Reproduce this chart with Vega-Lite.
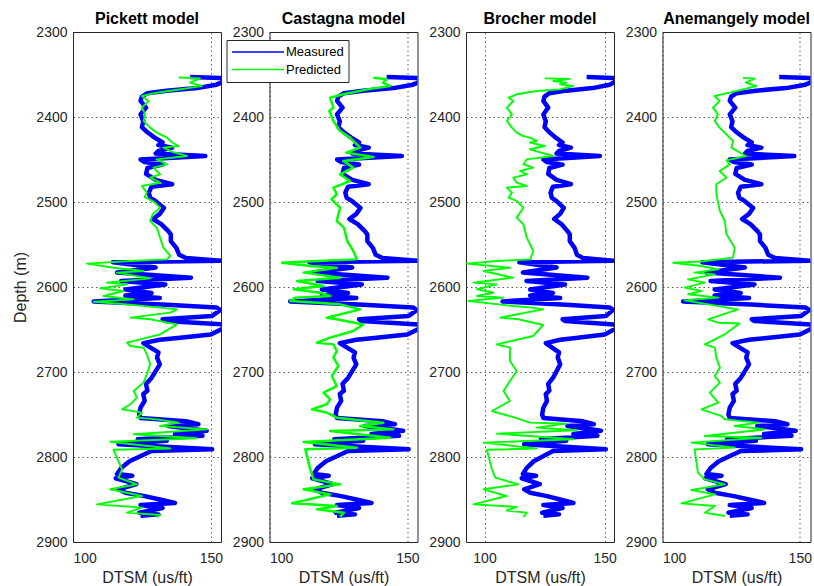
{
  "$schema": "https://vega.github.io/schema/vega-lite/v6.json",
  "background": "white",
  "padding": {"left": 12, "top": 10, "right": 3, "bottom": 2},
  "bounds": "flush",
  "spacing": 48.5,
  "config": {
    "font": "Liberation Sans",
    "view": {"stroke": "#262626", "strokeWidth": 1},
    "axis": {
      "labelFont": "Liberation Sans",
      "labelFontSize": 14,
      "labelColor": "#262626",
      "titleFont": "Liberation Sans",
      "titleFontSize": 16,
      "titleFontWeight": "normal",
      "titleColor": "#262626",
      "domain": false,
      "ticks": false,
      "grid": true,
      "gridColor": "#262626",
      "gridDash": [1.5, 3],
      "gridOpacity": 0.75,
      "gridWidth": 1
    },
    "axisX": {"labelPadding": 9, "titlePadding": 4},
    "axisY": {"labelPadding": 6, "titlePadding": 7, "format": "d"},
    "title": {"font": "Liberation Sans", "fontSize": 16, "fontWeight": "bold", "color": "#000000", "baseline": "alphabetic", "offset": -2, "frame": "group"}
  },
  "datasets": {
    "measured": [
      {"depth": 2353, "dtsm": 142.5}, {"depth": 2354, "dtsm": 153.5}, {"depth": 2358, "dtsm": 155}, {"depth": 2362, "dtsm": 152},
      {"depth": 2366, "dtsm": 145}, {"depth": 2369, "dtsm": 134}, {"depth": 2372, "dtsm": 127}, {"depth": 2376, "dtsm": 125},
      {"depth": 2381, "dtsm": 124.5}, {"depth": 2389, "dtsm": 126.5}, {"depth": 2397, "dtsm": 124.5}, {"depth": 2405, "dtsm": 125.5},
      {"depth": 2412, "dtsm": 125}, {"depth": 2418, "dtsm": 127}, {"depth": 2424, "dtsm": 129.5}, {"depth": 2430, "dtsm": 132.5},
      {"depth": 2433, "dtsm": 131}, {"depth": 2436, "dtsm": 136}, {"depth": 2440, "dtsm": 131}, {"depth": 2443, "dtsm": 130},
      {"depth": 2446, "dtsm": 148}, {"depth": 2450, "dtsm": 124.5}, {"depth": 2453, "dtsm": 126}, {"depth": 2456, "dtsm": 132.5},
      {"depth": 2460, "dtsm": 127}, {"depth": 2467, "dtsm": 126.5}, {"depth": 2474, "dtsm": 130}, {"depth": 2479, "dtsm": 136},
      {"depth": 2482, "dtsm": 128.5}, {"depth": 2489, "dtsm": 127.5}, {"depth": 2495, "dtsm": 128}, {"depth": 2499, "dtsm": 130},
      {"depth": 2507, "dtsm": 133}, {"depth": 2514, "dtsm": 131.5}, {"depth": 2520, "dtsm": 129}, {"depth": 2526, "dtsm": 132},
      {"depth": 2534, "dtsm": 134.5}, {"depth": 2538, "dtsm": 135.5}, {"depth": 2546, "dtsm": 135.5}, {"depth": 2554, "dtsm": 137.5},
      {"depth": 2562, "dtsm": 138.5}, {"depth": 2566, "dtsm": 141}, {"depth": 2569, "dtsm": 153.5}, {"depth": 2571, "dtsm": 114.5},
      {"depth": 2577, "dtsm": 130}, {"depth": 2583, "dtsm": 116}, {"depth": 2589, "dtsm": 142.8}, {"depth": 2593, "dtsm": 117.5},
      {"depth": 2597, "dtsm": 133.5}, {"depth": 2603, "dtsm": 119}, {"depth": 2607, "dtsm": 128.5}, {"depth": 2610, "dtsm": 119},
      {"depth": 2613, "dtsm": 131.5}, {"depth": 2617, "dtsm": 107.5}, {"depth": 2621, "dtsm": 134}, {"depth": 2624, "dtsm": 152},
      {"depth": 2627, "dtsm": 153.5}, {"depth": 2634, "dtsm": 150.5}, {"depth": 2638, "dtsm": 132.5}, {"depth": 2640, "dtsm": 133.5},
      {"depth": 2644, "dtsm": 154}, {"depth": 2648, "dtsm": 155}, {"depth": 2656, "dtsm": 150}, {"depth": 2660, "dtsm": 138},
      {"depth": 2662, "dtsm": 131.5}, {"depth": 2666, "dtsm": 125.5}, {"depth": 2671, "dtsm": 128}, {"depth": 2677, "dtsm": 131},
      {"depth": 2683, "dtsm": 130.5}, {"depth": 2691, "dtsm": 131.5}, {"depth": 2699, "dtsm": 130}, {"depth": 2707, "dtsm": 128.5},
      {"depth": 2714, "dtsm": 126.5}, {"depth": 2722, "dtsm": 127}, {"depth": 2726, "dtsm": 125.5}, {"depth": 2734, "dtsm": 126},
      {"depth": 2742, "dtsm": 124.5}, {"depth": 2750, "dtsm": 124}, {"depth": 2754, "dtsm": 124.5}, {"depth": 2758, "dtsm": 141},
      {"depth": 2761.5, "dtsm": 145.5}, {"depth": 2763.5, "dtsm": 134.5}, {"depth": 2769, "dtsm": 148.5}, {"depth": 2773, "dtsm": 137},
      {"depth": 2775, "dtsm": 147}, {"depth": 2779, "dtsm": 123.5}, {"depth": 2781, "dtsm": 134}, {"depth": 2785, "dtsm": 116.5},
      {"depth": 2791, "dtsm": 150.5}, {"depth": 2793, "dtsm": 128.5}, {"depth": 2805, "dtsm": 120.5}, {"depth": 2813, "dtsm": 117.5},
      {"depth": 2820, "dtsm": 116}, {"depth": 2822, "dtsm": 121.5}, {"depth": 2825, "dtsm": 115.5}, {"depth": 2832, "dtsm": 123},
      {"depth": 2838, "dtsm": 116.5}, {"depth": 2842, "dtsm": 119}, {"depth": 2846, "dtsm": 126}, {"depth": 2850, "dtsm": 131.5},
      {"depth": 2854, "dtsm": 137}, {"depth": 2856.5, "dtsm": 124.5}, {"depth": 2860, "dtsm": 132.5}, {"depth": 2865.5, "dtsm": 124},
      {"depth": 2867.5, "dtsm": 131}, {"depth": 2869, "dtsm": 124.5}
    ],
    "pickett": [
      {"depth": 2353.5, "dtsm": 138.3}, {"depth": 2354.5, "dtsm": 146.1}, {"depth": 2359.6, "dtsm": 142.5}, {"depth": 2363.5, "dtsm": 146.7},
      {"depth": 2366.3, "dtsm": 141.3}, {"depth": 2368.6, "dtsm": 136.5}, {"depth": 2371.4, "dtsm": 130.4}, {"depth": 2375.3, "dtsm": 125},
      {"depth": 2381.2, "dtsm": 127.4}, {"depth": 2389, "dtsm": 125}, {"depth": 2396.9, "dtsm": 126.2}, {"depth": 2404.7, "dtsm": 125.6},
      {"depth": 2412.5, "dtsm": 128}, {"depth": 2418.4, "dtsm": 130.4}, {"depth": 2424.3, "dtsm": 134.1}, {"depth": 2430, "dtsm": 136},
      {"depth": 2434.1, "dtsm": 138.3}, {"depth": 2436, "dtsm": 132.8}, {"depth": 2441, "dtsm": 136}, {"depth": 2445.9, "dtsm": 141.3},
      {"depth": 2449.8, "dtsm": 130.4}, {"depth": 2455.7, "dtsm": 134.1}, {"depth": 2459.6, "dtsm": 129.2}, {"depth": 2467.5, "dtsm": 131.6},
      {"depth": 2471.4, "dtsm": 128}, {"depth": 2477.3, "dtsm": 131.6}, {"depth": 2481.2, "dtsm": 125}, {"depth": 2489, "dtsm": 126.8},
      {"depth": 2494, "dtsm": 126}, {"depth": 2500, "dtsm": 129.5}, {"depth": 2506.7, "dtsm": 131.6}, {"depth": 2514, "dtsm": 129},
      {"depth": 2522.4, "dtsm": 128}, {"depth": 2530.2, "dtsm": 130.4}, {"depth": 2542, "dtsm": 131.6}, {"depth": 2553.8, "dtsm": 132.8},
      {"depth": 2563.5, "dtsm": 135.3}, {"depth": 2567.5, "dtsm": 134.1}, {"depth": 2569.4, "dtsm": 120.8}, {"depth": 2572.5, "dtsm": 105.1},
      {"depth": 2577.3, "dtsm": 114.7}, {"depth": 2581.2, "dtsm": 125.6}, {"depth": 2583.1, "dtsm": 115.9}, {"depth": 2589.8, "dtsm": 128},
      {"depth": 2594.9, "dtsm": 112.3}, {"depth": 2596.9, "dtsm": 119.6}, {"depth": 2601.6, "dtsm": 109.9}, {"depth": 2604.7, "dtsm": 118.3},
      {"depth": 2610.6, "dtsm": 111.1}, {"depth": 2614.5, "dtsm": 122}, {"depth": 2617.3, "dtsm": 107.5}, {"depth": 2620.4, "dtsm": 119.6},
      {"depth": 2624.3, "dtsm": 131.6}, {"depth": 2626.3, "dtsm": 137.7}, {"depth": 2630.2, "dtsm": 135.3}, {"depth": 2636, "dtsm": 120.8},
      {"depth": 2638, "dtsm": 128}, {"depth": 2644, "dtsm": 137.7}, {"depth": 2655.7, "dtsm": 131.6}, {"depth": 2665.5, "dtsm": 119.6},
      {"depth": 2669.4, "dtsm": 120.8}, {"depth": 2671.4, "dtsm": 125.6}, {"depth": 2679.2, "dtsm": 126.8}, {"depth": 2691, "dtsm": 128},
      {"depth": 2702.7, "dtsm": 126.8}, {"depth": 2712.5, "dtsm": 125.6}, {"depth": 2722.4, "dtsm": 122}, {"depth": 2730.2, "dtsm": 123.2},
      {"depth": 2738, "dtsm": 120.8}, {"depth": 2743.9, "dtsm": 117.8}, {"depth": 2747.8, "dtsm": 125}, {"depth": 2753.7, "dtsm": 123.2},
      {"depth": 2755.7, "dtsm": 130.4}, {"depth": 2759.6, "dtsm": 138.3}, {"depth": 2763.5, "dtsm": 131.6}, {"depth": 2767.5, "dtsm": 148.6},
      {"depth": 2773.3, "dtsm": 122}, {"depth": 2778, "dtsm": 144.9}, {"depth": 2782, "dtsm": 113.5}, {"depth": 2790, "dtsm": 135.3},
      {"depth": 2791.5, "dtsm": 114.7}, {"depth": 2814.5, "dtsm": 117.8}, {"depth": 2824.3, "dtsm": 116.5}, {"depth": 2832.2, "dtsm": 123.2},
      {"depth": 2838, "dtsm": 113.5}, {"depth": 2845.9, "dtsm": 125}, {"depth": 2855.7, "dtsm": 108.7}, {"depth": 2859.6, "dtsm": 125},
      {"depth": 2865.5, "dtsm": 119.6}, {"depth": 2868.2, "dtsm": 131.6}, {"depth": 2871, "dtsm": 130.4}
    ],
    "castagna": [
      {"depth": 2353.7, "dtsm": 137.7}, {"depth": 2355.7, "dtsm": 142.5}, {"depth": 2359.6, "dtsm": 141.2}, {"depth": 2363.5, "dtsm": 143.7},
      {"depth": 2367.5, "dtsm": 135.6}, {"depth": 2373.3, "dtsm": 126.8}, {"depth": 2377.3, "dtsm": 122}, {"depth": 2389, "dtsm": 123.2},
      {"depth": 2393, "dtsm": 121.7}, {"depth": 2404.7, "dtsm": 123.2}, {"depth": 2416.5, "dtsm": 125.6}, {"depth": 2424.3, "dtsm": 129.2},
      {"depth": 2436, "dtsm": 132.9}, {"depth": 2441.9, "dtsm": 127.9}, {"depth": 2447, "dtsm": 137.7}, {"depth": 2451.8, "dtsm": 126.8},
      {"depth": 2459.6, "dtsm": 130.4}, {"depth": 2467.5, "dtsm": 125.6}, {"depth": 2475.3, "dtsm": 129.2}, {"depth": 2483.1, "dtsm": 123.2},
      {"depth": 2490.9, "dtsm": 124.4}, {"depth": 2496.8, "dtsm": 122.5}, {"depth": 2506.7, "dtsm": 125.6}, {"depth": 2522.4, "dtsm": 124.4},
      {"depth": 2530.2, "dtsm": 127}, {"depth": 2545.9, "dtsm": 128.2}, {"depth": 2557.6, "dtsm": 130.4}, {"depth": 2567.5, "dtsm": 131.7},
      {"depth": 2569.4, "dtsm": 117.2}, {"depth": 2571.4, "dtsm": 104.6}, {"depth": 2575.3, "dtsm": 114.8}, {"depth": 2577.3, "dtsm": 124.4},
      {"depth": 2583.1, "dtsm": 112.4}, {"depth": 2589, "dtsm": 125.6}, {"depth": 2592.9, "dtsm": 110}, {"depth": 2598.8, "dtsm": 119.6},
      {"depth": 2602.7, "dtsm": 108.8}, {"depth": 2606.7, "dtsm": 118.4}, {"depth": 2610.6, "dtsm": 122}, {"depth": 2612.5, "dtsm": 109.4},
      {"depth": 2616.5, "dtsm": 107.6}, {"depth": 2620.4, "dtsm": 125.6}, {"depth": 2626.3, "dtsm": 132.9}, {"depth": 2636.1, "dtsm": 120.8},
      {"depth": 2638, "dtsm": 124.4}, {"depth": 2644, "dtsm": 134}, {"depth": 2651.8, "dtsm": 130.4}, {"depth": 2659.6, "dtsm": 122},
      {"depth": 2665.5, "dtsm": 117.2}, {"depth": 2667.5, "dtsm": 123.2}, {"depth": 2675.3, "dtsm": 124.4}, {"depth": 2683.1, "dtsm": 123.2},
      {"depth": 2692.9, "dtsm": 125}, {"depth": 2704.7, "dtsm": 122.6}, {"depth": 2716.5, "dtsm": 124.4}, {"depth": 2724.3, "dtsm": 119.6},
      {"depth": 2732.2, "dtsm": 122}, {"depth": 2738, "dtsm": 120.8}, {"depth": 2743.9, "dtsm": 115.4}, {"depth": 2747.8, "dtsm": 120.8},
      {"depth": 2753.7, "dtsm": 124.4}, {"depth": 2759.6, "dtsm": 141.3}, {"depth": 2763.5, "dtsm": 132.9}, {"depth": 2767.5, "dtsm": 144.9},
      {"depth": 2769.4, "dtsm": 122}, {"depth": 2777.3, "dtsm": 143.7}, {"depth": 2782.4, "dtsm": 112.4}, {"depth": 2789, "dtsm": 131.7},
      {"depth": 2791, "dtsm": 113}, {"depth": 2814.5, "dtsm": 114.8}, {"depth": 2826.3, "dtsm": 116}, {"depth": 2832.2, "dtsm": 125.6},
      {"depth": 2838, "dtsm": 112.4}, {"depth": 2844, "dtsm": 122}, {"depth": 2854.5, "dtsm": 108.2}, {"depth": 2857.6, "dtsm": 124.4},
      {"depth": 2861.6, "dtsm": 117.2}, {"depth": 2865.5, "dtsm": 127}, {"depth": 2870.2, "dtsm": 125.6}
    ],
    "brocher": [
      {"depth": 2354.5, "dtsm": 125.1}, {"depth": 2355.2, "dtsm": 135.5}, {"depth": 2357.6, "dtsm": 128.6}, {"depth": 2359.6, "dtsm": 134.1},
      {"depth": 2361.6, "dtsm": 131.4}, {"depth": 2363.5, "dtsm": 136.9}, {"depth": 2367.5, "dtsm": 131.4}, {"depth": 2369.4, "dtsm": 121.7},
      {"depth": 2373.3, "dtsm": 113.4}, {"depth": 2377.3, "dtsm": 110}, {"depth": 2381.2, "dtsm": 112}, {"depth": 2389, "dtsm": 109.3},
      {"depth": 2396.9, "dtsm": 111.4}, {"depth": 2404.7, "dtsm": 109.3}, {"depth": 2412.5, "dtsm": 111.4}, {"depth": 2418.4, "dtsm": 113.4},
      {"depth": 2422.4, "dtsm": 116.2}, {"depth": 2424.3, "dtsm": 118.9}, {"depth": 2428.2, "dtsm": 121.7}, {"depth": 2430.2, "dtsm": 118.9},
      {"depth": 2434.1, "dtsm": 125.1}, {"depth": 2438, "dtsm": 118.9}, {"depth": 2445.9, "dtsm": 128.6}, {"depth": 2449.8, "dtsm": 117.6},
      {"depth": 2455.7, "dtsm": 116.2}, {"depth": 2459.6, "dtsm": 120.3}, {"depth": 2463.5, "dtsm": 114.8}, {"depth": 2467.5, "dtsm": 117.6},
      {"depth": 2471.4, "dtsm": 112}, {"depth": 2477.3, "dtsm": 113.4}, {"depth": 2481.2, "dtsm": 117.6}, {"depth": 2483.1, "dtsm": 109.3},
      {"depth": 2489, "dtsm": 111.4}, {"depth": 2494.9, "dtsm": 110}, {"depth": 2498.8, "dtsm": 113.4}, {"depth": 2506.7, "dtsm": 116.2},
      {"depth": 2518.4, "dtsm": 113.4}, {"depth": 2526.3, "dtsm": 116.2}, {"depth": 2542, "dtsm": 117.6}, {"depth": 2557.6, "dtsm": 120.3},
      {"depth": 2567.5, "dtsm": 119}, {"depth": 2569.4, "dtsm": 105.1}, {"depth": 2572.5, "dtsm": 92.7}, {"depth": 2577.3, "dtsm": 110.6},
      {"depth": 2581.2, "dtsm": 99.6}, {"depth": 2589, "dtsm": 112}, {"depth": 2594.9, "dtsm": 95.4}, {"depth": 2596.9, "dtsm": 105.1},
      {"depth": 2602.7, "dtsm": 96.9}, {"depth": 2606.7, "dtsm": 103.7}, {"depth": 2610.6, "dtsm": 96.9}, {"depth": 2612.5, "dtsm": 107.9},
      {"depth": 2616.5, "dtsm": 93.4}, {"depth": 2622.4, "dtsm": 112}, {"depth": 2624, "dtsm": 119}, {"depth": 2626.3, "dtsm": 124.4},
      {"depth": 2636, "dtsm": 106.5}, {"depth": 2638, "dtsm": 114.1}, {"depth": 2644.7, "dtsm": 124.4}, {"depth": 2657.6, "dtsm": 120.3},
      {"depth": 2667.5, "dtsm": 105.1}, {"depth": 2671.4, "dtsm": 110.6}, {"depth": 2687, "dtsm": 110.6}, {"depth": 2698.8, "dtsm": 113.4},
      {"depth": 2710.6, "dtsm": 110.6}, {"depth": 2722.4, "dtsm": 107.9}, {"depth": 2734.1, "dtsm": 110.6}, {"depth": 2745.9, "dtsm": 103.1},
      {"depth": 2753.7, "dtsm": 112.7}, {"depth": 2759.6, "dtsm": 119}, {"depth": 2760.8, "dtsm": 134.1}, {"depth": 2765.5, "dtsm": 121.7},
      {"depth": 2768.6, "dtsm": 138.3}, {"depth": 2772.5, "dtsm": 105.1}, {"depth": 2779.2, "dtsm": 137}, {"depth": 2783.1, "dtsm": 99.6},
      {"depth": 2790, "dtsm": 121.7}, {"depth": 2791.5, "dtsm": 101}, {"depth": 2814.5, "dtsm": 103.1}, {"depth": 2824.3, "dtsm": 104.5},
      {"depth": 2832.2, "dtsm": 114.1}, {"depth": 2838, "dtsm": 99.6}, {"depth": 2845.9, "dtsm": 109.2}, {"depth": 2855.7, "dtsm": 95.4},
      {"depth": 2858.8, "dtsm": 113.4}, {"depth": 2863, "dtsm": 109.2}, {"depth": 2865.5, "dtsm": 117.6}, {"depth": 2870.6, "dtsm": 116.2}
    ],
    "anemangely": [
      {"depth": 2354, "dtsm": 129.3}, {"depth": 2354.8, "dtsm": 133.6}, {"depth": 2359.6, "dtsm": 130.3}, {"depth": 2363.5, "dtsm": 134.2},
      {"depth": 2367.5, "dtsm": 129.3}, {"depth": 2371.4, "dtsm": 124.5}, {"depth": 2375.3, "dtsm": 119}, {"depth": 2381.2, "dtsm": 120.8},
      {"depth": 2389, "dtsm": 118.4}, {"depth": 2396.9, "dtsm": 120.2}, {"depth": 2404.7, "dtsm": 119}, {"depth": 2412.5, "dtsm": 120.8},
      {"depth": 2420.4, "dtsm": 123.3}, {"depth": 2428.2, "dtsm": 125.7}, {"depth": 2436, "dtsm": 125.1}, {"depth": 2445.9, "dtsm": 130.3},
      {"depth": 2451, "dtsm": 123.3}, {"depth": 2455.7, "dtsm": 124.5}, {"depth": 2463.5, "dtsm": 120.8}, {"depth": 2471.4, "dtsm": 123.3},
      {"depth": 2479.2, "dtsm": 119.6}, {"depth": 2489, "dtsm": 119.6}, {"depth": 2497, "dtsm": 120}, {"depth": 2510.6, "dtsm": 120.9},
      {"depth": 2522.4, "dtsm": 122.7}, {"depth": 2538, "dtsm": 123.3}, {"depth": 2553.8, "dtsm": 126.3}, {"depth": 2565.5, "dtsm": 125.7},
      {"depth": 2570, "dtsm": 114.2}, {"depth": 2571.4, "dtsm": 103.9}, {"depth": 2575.3, "dtsm": 114.2}, {"depth": 2579.2, "dtsm": 120.3},
      {"depth": 2583.1, "dtsm": 111.7}, {"depth": 2585.1, "dtsm": 119.1}, {"depth": 2591, "dtsm": 109.3}, {"depth": 2594.9, "dtsm": 115.4},
      {"depth": 2600.8, "dtsm": 108.1}, {"depth": 2604.7, "dtsm": 114.2}, {"depth": 2608.6, "dtsm": 109.3}, {"depth": 2612.5, "dtsm": 120.3},
      {"depth": 2615.7, "dtsm": 108.1}, {"depth": 2626.3, "dtsm": 127.5}, {"depth": 2638, "dtsm": 116.6}, {"depth": 2642, "dtsm": 120.3},
      {"depth": 2643, "dtsm": 128.1}, {"depth": 2655.7, "dtsm": 122.7}, {"depth": 2667.5, "dtsm": 115.4}, {"depth": 2671.4, "dtsm": 119.1},
      {"depth": 2683.1, "dtsm": 119.6}, {"depth": 2694.9, "dtsm": 120.9}, {"depth": 2704.7, "dtsm": 119}, {"depth": 2712.5, "dtsm": 120.9},
      {"depth": 2724.3, "dtsm": 117.2}, {"depth": 2736.1, "dtsm": 120.3}, {"depth": 2743.9, "dtsm": 114.2}, {"depth": 2751.8, "dtsm": 121.5},
      {"depth": 2755.7, "dtsm": 122.7}, {"depth": 2759.6, "dtsm": 134.8}, {"depth": 2763.5, "dtsm": 126.3}, {"depth": 2767.5, "dtsm": 137.2},
      {"depth": 2775.3, "dtsm": 115.4}, {"depth": 2777.3, "dtsm": 136}, {"depth": 2783.1, "dtsm": 110.5}, {"depth": 2789, "dtsm": 126.3},
      {"depth": 2791, "dtsm": 111.7}, {"depth": 2818.4, "dtsm": 112.9}, {"depth": 2826.3, "dtsm": 115.4}, {"depth": 2832.2, "dtsm": 122.7},
      {"depth": 2838.8, "dtsm": 110.5}, {"depth": 2844, "dtsm": 119.1}, {"depth": 2854.5, "dtsm": 106.9}, {"depth": 2857.6, "dtsm": 119.1},
      {"depth": 2865.5, "dtsm": 115.4}, {"depth": 2869.4, "dtsm": 122.7}
    ]
  },
  "resolve": {
    "scale": {"color": "independent", "strokeWidth": "independent"},
    "legend": {"color": "independent", "strokeWidth": "independent"}
  },
  "hconcat": [
    {
      "title": "Pickett model",
      "width": 148, "height": 510,
      "encoding": {
        "x": {"field": "dtsm", "type": "quantitative", "scale": {"domain": [100, 153.7], "nice": false, "zero": false}, "axis": {"values": [100, 150], "title": "DTSM (us/ft)"}},
        "y": {"field": "depth", "type": "quantitative", "scale": {"domain": [2300, 2900], "reverse": true, "nice": false, "zero": false}, "axis": {"values": [2300, 2400, 2500, 2600, 2700, 2800, 2900], "title": "Depth (m)"}},
        "order": {"field": "depth"}
      },
      "layer": [
        {"data": {"name": "measured"}, "mark": {"type": "line", "color": "#0000ff", "strokeWidth": 4.5, "strokeJoin": "round", "clip": true}},
        {"data": {"name": "pickett"}, "mark": {"type": "line", "color": "#00ff00", "strokeWidth": 1.9, "strokeJoin": "round", "clip": true}}
      ]
    },
    {
      "title": "Castagna model",
      "width": 148, "height": 510,
      "encoding": {
        "x": {"field": "dtsm", "type": "quantitative", "scale": {"domain": [100, 153.7], "nice": false, "zero": false}, "axis": {"values": [100, 150], "title": "DTSM (us/ft)"}},
        "y": {"field": "depth", "type": "quantitative", "scale": {"domain": [2300, 2900], "reverse": true, "nice": false, "zero": false}, "axis": {"values": [2300, 2400, 2500, 2600, 2700, 2800, 2900], "title": null}},
        "order": {"field": "depth"}
      },
      "layer": [
        {"data": {"name": "measured"}, "mark": {"type": "line", "strokeJoin": "round", "clip": true},
         "encoding": {
           "color": {"datum": "Measured", "type": "nominal", "scale": {"domain": ["Measured", "Predicted"], "range": ["#0000ff", "#00ff00"]},
             "legend": {"title": null, "orient": "none", "legendX": -43, "legendY": 8, "symbolType": "stroke", "symbolSize": 2704,
               "clipHeight": 15, "labelFont": "Liberation Sans", "labelFontSize": 13, "labelColor": "#000000", "labelOffset": 1, "symbolOffset": 0,
               "strokeColor": "#262626", "fillColor": "#ffffff", "padding": 4.5, "rowPadding": 2.6}},
           "strokeWidth": {"datum": "Measured", "type": "nominal", "scale": {"type": "ordinal", "domain": ["Measured", "Predicted"], "range": [4.5, 1.9]}, "legend": null}
         }},
        {"data": {"name": "castagna"}, "mark": {"type": "line", "strokeJoin": "round", "clip": true},
         "encoding": {
           "color": {"datum": "Predicted", "type": "nominal", "legend": null},
           "strokeWidth": {"datum": "Predicted", "type": "nominal", "legend": null}
         }}
      ]
    },
    {
      "title": "Brocher model",
      "width": 148, "height": 510,
      "encoding": {
        "x": {"field": "dtsm", "type": "quantitative", "scale": {"domain": [92.3, 153.9], "nice": false, "zero": false}, "axis": {"values": [100, 150], "title": "DTSM (us/ft)"}},
        "y": {"field": "depth", "type": "quantitative", "scale": {"domain": [2300, 2900], "reverse": true, "nice": false, "zero": false}, "axis": {"values": [2300, 2400, 2500, 2600, 2700, 2800, 2900], "title": null}},
        "order": {"field": "depth"}
      },
      "layer": [
        {"data": {"name": "measured"}, "mark": {"type": "line", "color": "#0000ff", "strokeWidth": 4.5, "strokeJoin": "round", "clip": true}},
        {"data": {"name": "brocher"}, "mark": {"type": "line", "color": "#00ff00", "strokeWidth": 1.9, "strokeJoin": "round", "clip": true}}
      ]
    },
    {
      "title": "Anemangely model",
      "width": 148, "height": 510,
      "encoding": {
        "x": {"field": "dtsm", "type": "quantitative", "scale": {"domain": [100, 153.9], "nice": false, "zero": false}, "axis": {"values": [100, 150], "title": "DTSM (us/ft)"}},
        "y": {"field": "depth", "type": "quantitative", "scale": {"domain": [2300, 2900], "reverse": true, "nice": false, "zero": false}, "axis": {"values": [2300, 2400, 2500, 2600, 2700, 2800, 2900], "title": null}},
        "order": {"field": "depth"}
      },
      "layer": [
        {"data": {"name": "measured"}, "mark": {"type": "line", "color": "#0000ff", "strokeWidth": 4.5, "strokeJoin": "round", "clip": true}},
        {"data": {"name": "anemangely"}, "mark": {"type": "line", "color": "#00ff00", "strokeWidth": 1.9, "strokeJoin": "round", "clip": true}}
      ]
    }
  ]
}
